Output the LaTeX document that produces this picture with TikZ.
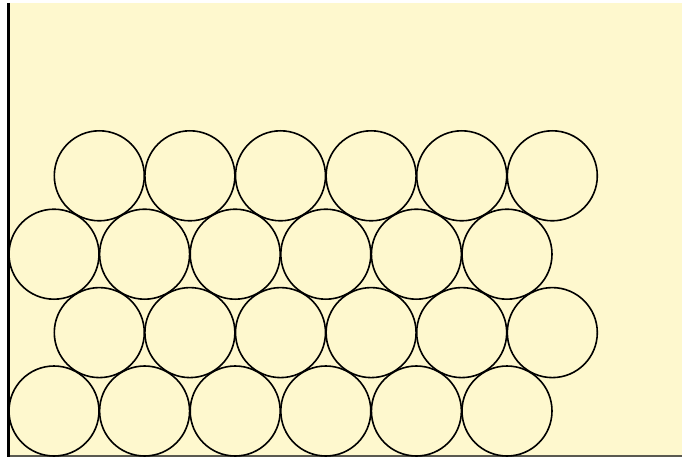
\documentclass[tikz,border=0pt]{standalone}
\definecolor{paper}{RGB}{254,248,206}
\definecolor{edge}{RGB}{90,90,80}
\tikzset{ball/.style={draw=black,fill=paper,line width=1.6pt}}
\begin{document}
\begin{tikzpicture}[x=1pt,y=-1pt]
\useasboundingbox (0,0) rectangle (682,457);
\fill[paper] (8,3) rectangle (682,457);
\draw[edge,line width=1.6pt] (8,456) -- (682,456);
\draw[black,line width=2.2pt] (8.5,3) -- (8.5,457);
\foreach \row/\y/\x in {0/411/54,1/332.6/99.3,2/254.2/54,3/175.8/99.3} {
  \foreach \i in {0,...,5} {
    \draw[ball] (\x+\i*90.6,\y) circle (45);
  }
}
\end{tikzpicture}
\end{document}
